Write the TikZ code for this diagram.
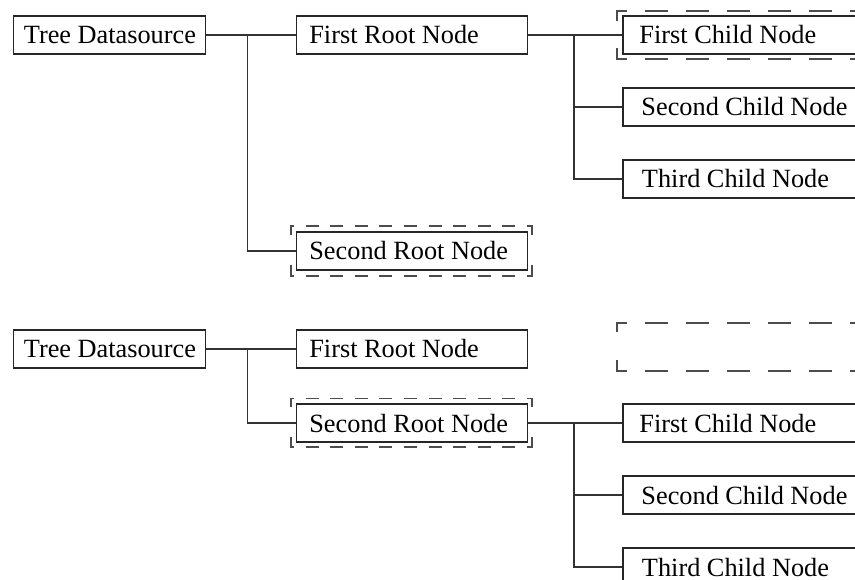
\documentclass[tikz,border=0pt]{standalone}
\usepackage{fontspec}
\setmainfont{Liberation Serif}
\usetikzlibrary{calc}
\newcommand{\bx}[3]{\makebox[#1][l]{\hspace*{#2}#3}}
\tikzset{
  box/.style={draw=black!85, line width=1.35pt, anchor=west, minimum height=38.3pt,
    inner sep=0pt, text height=18pt, text depth=0pt, font=\fontsize{26.3}{30}\selectfont},
  conn/.style={draw=black!80, line width=1.35pt},
  fr/.style={draw=black!70, line width=1.9pt},
  hdashC/.style={fr, dash pattern=on 23.5pt off 17.5pt, dash phase=12.5pt},
  vdashC/.style={fr, dash pattern=on 10.5pt off 27.3pt on 10.5pt off 0pt},
  hdashR/.style={fr, dash pattern=on 13pt off 11.57pt, dash phase=9pt},
  vdashR/.style={fr, dash pattern=on 9.5pt off 30pt on 9.5pt off 0pt}
}
\begin{document}
\begin{tikzpicture}[x=1pt,y=-1pt]
\useasboundingbox (0,0) rectangle (855,580);
\clip (0,0) rectangle (855,580);

% ---------- upper tree ----------
\node[box] (t1) at (12.7,35) {\bx{192.3pt}{10.5pt}{Tree Datasource}};
\node[box] (r1) at (295.7,35) {\bx{231pt}{13pt}{First Root Node}};
\node[box] (r2) at (295.7,251) {\bx{231pt}{13pt}{Second Root Node}};
\node[box] (c1) at (622.3,35) {\bx{240pt}{16.5pt}{First Child Node}};
\node[box] (c2) at (622.3,107) {\bx{240pt}{18.5pt}{Second Child Node}};
\node[box] (c3) at (622.3,179) {\bx{240pt}{19pt}{Third Child Node}};

\coordinate (j1) at (247.7,35);
\coordinate (j2) at (574,35);
\draw[conn] (t1.east) -- (r1.west);
\draw[conn] (j1) |- (r2.west);
\draw[conn] (r1.east) -- (c1.west);
\draw[conn] (j2) |- (c2.west);
\draw[conn] (j2) |- (c3.west);

% selection frames (upper)
\draw[hdashC] (616.4,11) -- (880,11);
\draw[hdashC] (616.4,59.3) -- (880,59.3);
\draw[vdashC] (617.3,10.1) -- (617.3,60.2);

\draw[hdashR] (290.1,226) -- (532.6,226);
\draw[hdashR] (290.1,275.7) -- (532.6,275.7);
\draw[vdashR] (291,225.1) -- (291,276.6);
\draw[vdashR] (531.7,225.1) -- (531.7,276.6);

% ---------- lower tree ----------
\node[box] (t2) at (12.7,349) {\bx{192.3pt}{10.5pt}{Tree Datasource}};
\node[box] (s1) at (295.7,349) {\bx{231pt}{13pt}{First Root Node}};
\node[box] (s2) at (295.7,423) {\bx{231pt}{13pt}{Second Root Node}};
\node[box] (d1) at (622.3,423) {\bx{240pt}{16.5pt}{First Child Node}};
\node[box] (d2) at (622.3,495) {\bx{240pt}{18.5pt}{Second Child Node}};
\node[box] (d3) at (622.3,567) {\bx{240pt}{19pt}{Third Child Node}};

\coordinate (k1) at (247.7,349);
\coordinate (k2) at (574,423);
\draw[conn] (t2.east) -- (s1.west);
\draw[conn] (k1) |- (s2.west);
\draw[conn] (s2.east) -- (d1.west);
\draw[conn] (k2) |- (d2.west);
\draw[conn] (k2) |- (d3.west);

% selection frames (lower)
\draw[hdashC] (616.4,322.7) -- (880,322.7);
\draw[hdashC] (616.4,371) -- (880,371);
\draw[vdashC] (617.3,321.8) -- (617.3,371.9);

\draw[hdashR] (290.1,398.5) -- (532.6,398.5);
\draw[hdashR] (290.1,447.2) -- (532.6,447.2);
\draw[vdashR] (291,397.6) -- (291,448.1);
\draw[vdashR] (531.7,397.6) -- (531.7,448.1);
\end{tikzpicture}
\end{document}
